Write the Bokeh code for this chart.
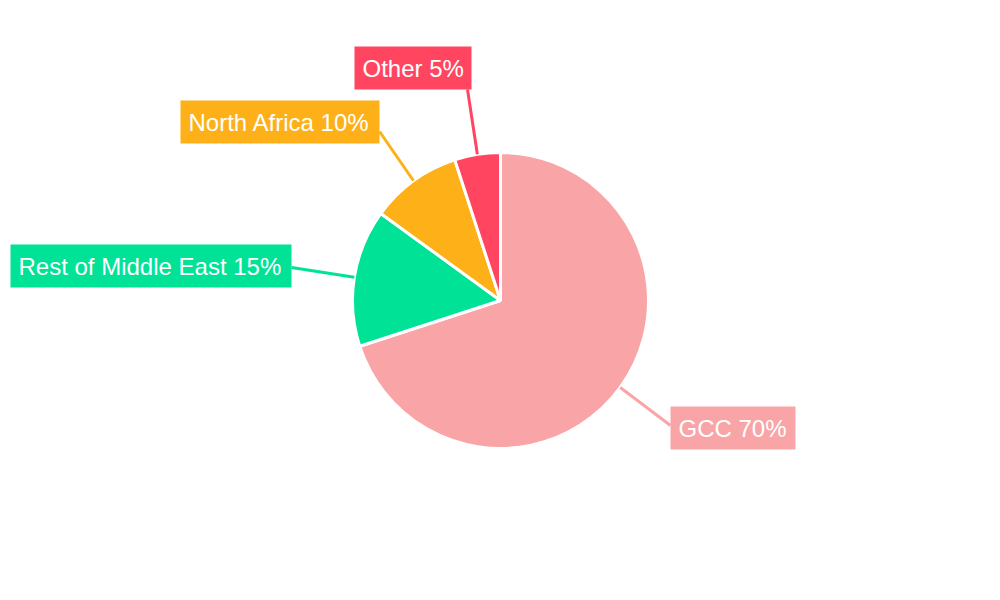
import math
from bokeh.plotting import figure
from bokeh.models import Range1d
from bokeh.core.properties import value
from bokeh.embed import file_html
from bokeh.resources import INLINE

categories = ["GCC", "Rest of Middle East", "North Africa", "Other"]
shares = [70, 15, 10, 5]
colors = ["#F9A5A7", "#00E396", "#FEB019", "#FF4560"]
labels = [f"{c} {v}%" for c, v in zip(categories, shares)]

# layout (page pixel coords)
CX, CY, R = 500, 300, 148
box_left = [670, 10, 180, 354]
box_top = [406, 244, 100, 46]
box_w = [125, 281, 199, 117]
box_h = 43
line_end = [(670, 425), (291, 267), (379, 131), (467, 89)]

W, H = 984, 584
p = figure(width=W, height=H, output_backend="svg", toolbar_location=None,
           x_range=Range1d(0, W), y_range=Range1d(0, H), min_border=0)
p.axis.visible = False
p.grid.visible = False
p.outline_line_color = None
p.background_fill_color = "white"
p.border_fill_color = "white"

def fy(y):
    return H - y

total = sum(shares)
cum = 0
for i, v in enumerate(shares):
    s = cum / total
    e = (cum + v) / total
    mid = (s + e) / 2
    cum += v
    start = math.pi / 2 - e * 2 * math.pi
    end = math.pi / 2 - s * 2 * math.pi
    p.wedge(x=[CX], y=[fy(CY)], radius=R, start_angle=start, end_angle=end,
            fill_color=colors[i], line_color="white", line_width=3)
    ang = mid * 2 * math.pi
    sx = CX + R * math.sin(ang)
    sy = CY - R * math.cos(ang)
    ex, ey = line_end[i]
    p.line([sx, ex], [fy(sy), fy(ey)], line_color=colors[i], line_width=3)
    p.rect(x=[box_left[i] + box_w[i] / 2], y=[fy(box_top[i] + box_h / 2)],
           width=box_w[i], height=box_h, fill_color=colors[i], line_color=None)
    p.text(x=[box_left[i] + 8], y=[fy(box_top[i] + box_h / 2)], text=[labels[i]],
           text_color="white", text_font=value("Liberation Sans"),
           text_font_size="24px", text_align="left", text_baseline="middle")

open("out.html", "w").write(file_html(p, INLINE))
